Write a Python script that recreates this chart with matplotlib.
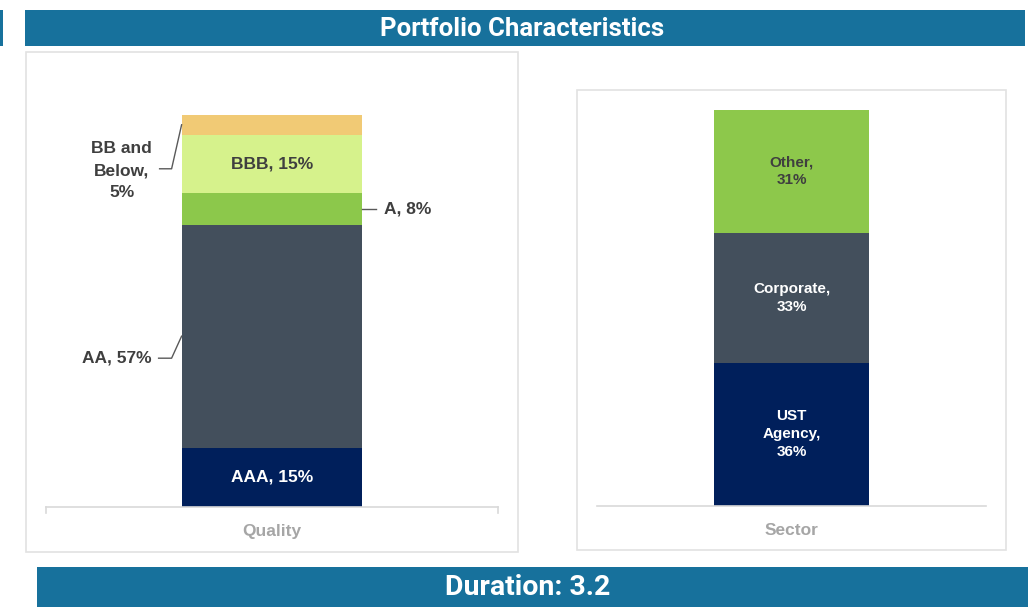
import matplotlib
matplotlib.use("Agg")
import matplotlib.pyplot as plt
from matplotlib.patches import Rectangle
import numpy as np

# ---------------- data ----------------
quality_labels = ["AAA", "AA", "A", "BBB", "BB and Below"]
quality_values = [15, 57, 8, 15, 5]
quality_texts = ["AAA, 15%", "AA, 57%", "A, 8%", "BBB, 15%", "BB and\nBelow,\n5%"]
quality_colors = ["#001F5B", "#434F5C", "#8CC84B", "#D6F28C", "#F1CA75"]

sector_labels = ["UST Agency", "Corporate", "Other"]
sector_values = [36, 33, 31]
sector_texts = ["UST\nAgency,\n36%", "Corporate,\n33%", "Other,\n31%"]
sector_colors = ["#001F5B", "#434F5C", "#8DC84B"]

title_text = "Portfolio Characteristics"
duration_text = "Duration: 3.2"

# ---------------- figure ----------------
W, H = 1028, 607
fig = plt.figure(figsize=(W / 100, H / 100), dpi=100)
fig.patch.set_facecolor("white")

BANNER = "#17719C"
BORDER = "#E2E2E2"
DARK = "#3F3F3F"
LEAD = "#595959"


def frect(x0, y0, x1, y1, **kw):
    """rectangle in pixel coords (top-left origin)"""
    r = Rectangle((x0 / W, 1 - y1 / H), (x1 - x0) / W, (y1 - y0) / H,
                  transform=fig.transFigure, **kw)
    fig.add_artist(r)
    return r


# banners
frect(25, 10, 1025, 46, facecolor=BANNER, edgecolor="none")
frect(0, 10, 3, 46, facecolor=BANNER, edgecolor="none")
fig.text(522 / W, 1 - 29.5 / H, title_text, ha="center", va="center",
         color="white", fontsize=18.5, fontweight="bold", family="Roboto")
frect(37, 567, 1028, 607, facecolor=BANNER, edgecolor="none")
fig.text(528 / W, 1 - 587.5 / H, duration_text, ha="center", va="center",
         color="white", fontsize=20.5, fontweight="bold", family="Roboto")

# panel boxes (behind the axes)
frect(26, 52, 518, 552, facecolor="none", edgecolor=BORDER, linewidth=1.2,
      zorder=-10)
frect(577, 90, 1006, 550, facecolor="none", edgecolor=BORDER, linewidth=1.2,
      zorder=-10)

FONT = "Liberation Sans"


def setup_axes(ax, xlabel):
    ax.set_xlim(-1.25, 1.25)
    ax.set_ylim(0, 100)
    for s in ["top", "left", "right"]:
        ax.spines[s].set_visible(False)
    ax.spines["bottom"].set_color("#D9D9D9")
    ax.spines["bottom"].set_linewidth(1.2)
    ax.set_xticks([])
    ax.set_yticks([])
    ax.patch.set_alpha(0)
    ax.text(0.5, -25 / (ax.get_position().height * H), xlabel,
            transform=ax.transAxes, ha="center", va="center",
            color="#A6A6A6", fontsize=12.5, fontweight="bold", family=FONT)


# ---------------- Quality ----------------
ax1 = fig.add_axes([46 / W, 1 - 506.5 / H, 452 / W, 391.5 / H])
setup_axes(ax1, "Quality")
# end ticks on baseline
for xe in (0, 1):
    ax1.plot([xe, xe], [0, -6 / 391.5], transform=ax1.transAxes,
             color="#D9D9D9", lw=1.2, clip_on=False)

bottoms = np.concatenate([[0], np.cumsum(quality_values)[:-1]])
ax1.bar(0, quality_values, bottom=bottoms, width=1.0,
        color=quality_colors, edgecolor="none")

pxx = 452 / 2.5     # pixels per x unit
pxy = 391.5 / 100   # pixels per y unit
half = 0.5
for i, (v, b, t) in enumerate(zip(quality_values, bottoms, quality_texts)):
    mid = b + v / 2
    if quality_labels[i] == "AAA":
        ax1.text(0, mid, t, ha="center", va="center", color="white",
                 fontsize=12.5, fontweight="bold", family=FONT)
    elif quality_labels[i] == "BBB":
        ax1.text(0, mid, t, ha="center", va="center", color=DARK,
                 fontsize=12.5, fontweight="bold", family=FONT)
    elif quality_labels[i] == "A":
        ax1.plot([half, half + 14 / pxx], [mid, mid], color=LEAD, lw=1,
                 clip_on=False)
        ax1.text(half + 22 / pxx, mid, t, ha="left", va="center", color=DARK,
                 fontsize=12.5, fontweight="bold", family=FONT)
    elif quality_labels[i] == "AA":
        ya = mid
        ye = ya - 22 / pxy
        ax1.plot([-half, -half - 10 / pxx, -half - 23 / pxx], [ya, ye, ye],
                 color=LEAD, lw=1, clip_on=False)
        ax1.text(-half - 30 / pxx, ye, t, ha="right", va="center",
                 color=DARK, fontsize=12.5, fontweight="bold", family=FONT)
    else:  # BB and Below
        ya = b + v * 0.5
        ye = ya - 44 / pxy
        ax1.plot([-half, -half - 10 / pxx, -half - 22 / pxx], [ya, ye, ye],
                 color=LEAD, lw=1, clip_on=False)
        ax1.text(-half - 60 / pxx, ye - 0.5, t, ha="center", va="center",
                 color=DARK, fontsize=12.5, fontweight="bold", family=FONT,
                 linespacing=1.6, multialignment="center")

# ---------------- Sector ----------------
ax2 = fig.add_axes([597 / W, 1 - 505.5 / H, 389 / W, 395.5 / H])
setup_axes(ax2, "Sector")
bottoms2 = np.concatenate([[0], np.cumsum(sector_values)[:-1]])
ax2.bar(0, sector_values, bottom=bottoms2, width=1.0,
        color=sector_colors, edgecolor="none")
for i, (v, b, t) in enumerate(zip(sector_values, bottoms2, sector_texts)):
    col = DARK if sector_labels[i] == "Other" else "white"
    ax2.text(0, b + v / 2, t, ha="center", va="center", color=col,
             fontsize=11, fontweight="bold", family=FONT,
             linespacing=1.35, multialignment="center")

fig.savefig("out.png", dpi=100, facecolor="white")
